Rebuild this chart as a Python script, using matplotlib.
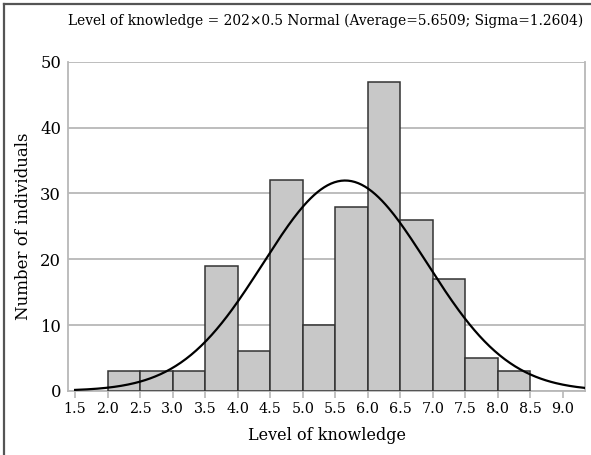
import numpy as np
import matplotlib.pyplot as plt
from matplotlib.lines import Line2D

# histogram data (bin edges at 0.5 steps)
bin_edges = [2.0, 2.5, 3.0, 3.5, 4.0, 4.5, 5.0, 5.5, 6.0, 6.5, 7.0, 7.5, 8.0, 8.5]
counts = [3, 3, 3, 19, 6, 32, 10, 28, 47, 26, 17, 5, 3]
n_total = 202
bin_width = 0.5
mean = 5.6509
sigma = 1.2604
xticks = [1.5, 2.0, 2.5, 3.0, 3.5, 4.0, 4.5, 5.0, 5.5, 6.0, 6.5, 7.0, 7.5, 8.0, 8.5, 9.0]
yticks = [0, 10, 20, 30, 40, 50]

plt.rcParams['font.family'] = ['DejaVu Serif']

fig = plt.figure(figsize=(5.91, 4.55), dpi=100)
ax = fig.add_axes([0.115, 0.141, 0.875, 0.723])

ax.bar(bin_edges[:-1], counts, width=bin_width, align='edge',
       color='#c8c8c8', edgecolor='#333333', linewidth=1.1, zorder=3)

xs = np.linspace(1.5, 9.34, 300)
ys = n_total * bin_width * np.exp(-0.5 * ((xs - mean) / sigma) ** 2) / (sigma * np.sqrt(2 * np.pi))
ax.plot(xs, ys, color='black', linewidth=1.6, zorder=4)

ax.set_xlim(1.39, 9.34)
ax.set_ylim(0, 50)
ax.set_xticks(xticks)
ax.set_xticklabels([f"{t:.1f}" for t in xticks], fontsize=10.3)
ax.set_yticks(yticks)
ax.set_yticklabels([str(t) for t in yticks], fontsize=11.8)
ax.yaxis.grid(True, color='#b8b8b8', linewidth=1.3, zorder=0)
ax.set_axisbelow(True)
ax.tick_params(axis='x', length=5, color='#b8b8b8', width=1.2, pad=3)
ax.tick_params(axis='y', length=0, pad=5)
ax.spines['top'].set_visible(False)
for s in ['left', 'right', 'bottom']:
    ax.spines[s].set_color('#b8b8b8')
    ax.spines[s].set_linewidth(1.3)

ax.set_xlabel('Level of knowledge', fontsize=11.5, labelpad=8)
ax.set_ylabel('Number of individuals', fontsize=12, labelpad=6)

fig.text(0.551, 0.955, 'Level of knowledge = 202×0.5 Normal (Average=5.6509; Sigma=1.2604)',
         ha='center', va='center', fontsize=9.9)

# outer frame (left and top edges)
fig.add_artist(Line2D([0.007, 0.007], [0.0, 0.991], transform=fig.transFigure,
                      color='#555555', linewidth=1.6))
fig.add_artist(Line2D([0.007, 1.0], [0.991, 0.991], transform=fig.transFigure,
                      color='#555555', linewidth=1.6))

fig.savefig('out.png', dpi=100)
